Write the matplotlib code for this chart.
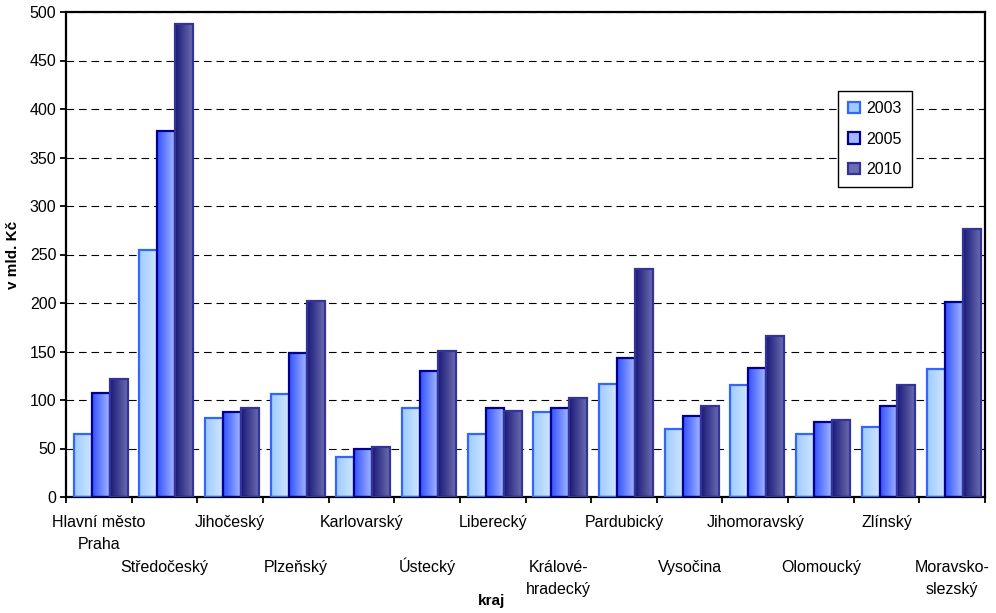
import numpy as np
import matplotlib.pyplot as plt
import matplotlib.transforms as mtransforms
from matplotlib.colors import LinearSegmentedColormap
from matplotlib.patches import Patch

plt.rcParams["font.family"] = ["Liberation Sans", "DejaVu Sans"]
plt.rcParams["lines.scale_dashes"] = False

regions = [
    "Hlavní město\nPraha", "Středočeský", "Jihočeský", "Plzeňský",
    "Karlovarský", "Ústecký", "Liberecký", "Králové-\nhradecký",
    "Pardubický", "Vysočina", "Jihomoravský", "Olomoucký",
    "Zlínský", "Moravsko-\nslezský",
]
years = ["2003", "2005", "2010"]
v2003 = [65, 255, 81, 106, 41, 92, 65, 88, 117, 70, 115, 65, 72, 132]
v2005 = [107, 377, 88, 148, 50, 130, 92, 92, 143, 83, 133, 77, 94, 201]
v2010 = [122, 488, 92, 202, 52, 151, 89, 102, 235, 94, 166, 79, 115, 276]
yticks = list(range(0, 501, 50))

# (left colour, right colour, edge colour) of the bar gradients
styles = [
    ("#9ECBFF", "#CFE6FF", "#3366FF"),
    ("#3352FF", "#A3B6FF", "#000090"),
    ("#1A1A78", "#6C6CB0", "#333399"),
]

fig = plt.figure(figsize=(9.96, 6.13), dpi=100)
ax = fig.add_axes([66 / 996, 116 / 613, 919 / 996, 485 / 613])

x = np.arange(len(regions))
w = 0.274
grad = np.linspace(0, 1, 64).reshape(1, -1)
handles = []
for i, (vals, (c0, c1, ec)) in enumerate(zip([v2003, v2005, v2010], styles)):
    bars = ax.bar(x + (i - 1) * w + 0.03, vals, w, facecolor="none",
                  edgecolor=ec, linewidth=1.6, zorder=3)
    cmap = LinearSegmentedColormap.from_list(f"g{i}", [c0, c1])
    for r in bars:
        x0, bw, h = r.get_x(), r.get_width(), r.get_height()
        ax.imshow(grad, extent=[x0, x0 + bw, 0, h], aspect="auto",
                  cmap=cmap, interpolation="bilinear", zorder=2)
    handles.append(Patch(facecolor=(c0 if i == 0 else c1), edgecolor=ec,
                         linewidth=1.6, label=years[i]))

ax.set_xlim(-0.5, len(regions) - 0.5)
ax.set_ylim(0, 500)
ax.set_yticks(yticks)
ax.set_xticks(np.arange(-0.5, len(regions), 1))
ax.set_xticklabels([])
ax.set_axisbelow(True)
ax.yaxis.grid(True, color="black", linewidth=0.8, dashes=(5.5, 3.5))

for s in ax.spines.values():
    s.set_linewidth(1.6)
ax.tick_params(axis="both", direction="out", length=4, width=1.3,
               labelsize=11.5, colors="black")
ax.tick_params(axis="y", pad=3)

# region names in two staggered rows; each line placed on its own baseline
trans = mtransforms.blended_transform_factory(ax.transData, ax.transAxes)
for i, name in enumerate(regions):
    base = 30 if i % 2 == 0 else 75
    for k, line in enumerate(name.split("\n")):
        ax.text(i, -(base + 22 * k) / 485, line, transform=trans,
                ha="center", va="baseline", fontsize=11.5)

ax.set_ylabel("v mld. Kč", fontsize=11, fontweight="bold")
ax.yaxis.set_label_coords(-(66 - 13) / 919, 0.5)
ax.yaxis.label.set_va("center")
ax.set_xlabel("kraj", fontsize=11, fontweight="bold")
ax.xaxis.set_label_coords((492 - 66) / 919, -(594 - 497) / 485)

leg = ax.legend(handles=handles, loc="upper left",
                bbox_to_anchor=((838 - 66) / 919, (497 - 91) / 485),
                borderaxespad=0, fontsize=11.5, handlelength=0.7,
                handleheight=0.7, handletextpad=0.4, labelspacing=0.95,
                borderpad=0.65, fancybox=False, framealpha=1,
                edgecolor="black")
leg.get_frame().set_linewidth(1.0)

fig.savefig("out.png", dpi=100)
